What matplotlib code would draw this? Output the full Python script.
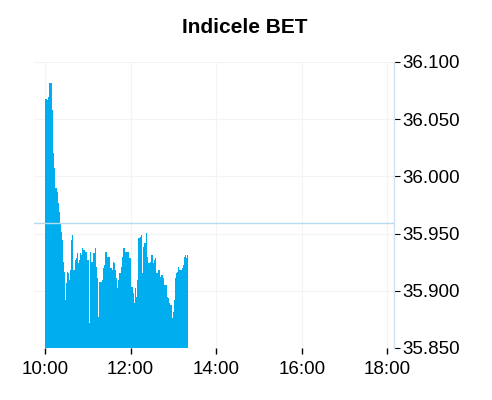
import numpy as np
import matplotlib
matplotlib.use('Agg')
import matplotlib.pyplot as plt
from matplotlib.ticker import FuncFormatter

# minutes after 10:00 and index level
minutes = [0.0, 2.3, 3.7, 4.7, 6.1, 8.4, 9.8, 10.8, 11.7, 13.1, 14.5, 16.4, 17.8, 19.2,
           21.0, 22.5, 23.9, 25.7, 27.1, 28.5, 29.5, 31.3, 32.8, 34.2, 35.6, 37.0, 38.4,
           39.8, 41.6, 43.0, 44.4, 45.9, 47.7, 49.1, 50.5, 51.9, 53.8, 55.2, 56.6, 58.5,
           60.3, 62.2, 63.2, 64.6, 66.0, 67.8, 69.7, 71.1, 72.5, 73.9, 75.3, 76.3, 78.1,
           79.5, 80.9, 82.8, 84.7, 86.5, 88.4, 90.3, 91.7, 93.6, 95.0, 96.4, 98.2, 99.6,
           101.0, 102.5, 104.3, 106.2, 107.6, 110.0, 111.8, 113.7, 115.6, 117.4, 119.3,
           121.2, 123.0, 124.9, 126.3, 128.2, 129.6, 131.0, 133.3, 134.7, 136.1, 138.0,
           139.4, 141.3, 142.7, 144.1, 145.5, 147.4, 149.2, 151.1, 153.0, 154.8, 156.3,
           158.1, 159.5, 161.4, 162.8, 164.2, 165.6, 167.5, 168.9, 170.8, 172.6, 174.0,
           175.4, 177.3, 178.7, 180.1, 181.0, 182.4, 183.8, 185.3, 186.7, 188.1, 189.5,
           190.9, 192.3, 193.7, 195.1, 196.6, 198.0, 199.4, 200.7]
values = [36.0674, 36.0668, 36.0653, 36.0697, 36.0813, 36.0819, 36.0580, 36.0362, 36.0202,
          36.0071, 35.9896, 35.9867, 35.9765, 35.9692, 35.9590, 35.9517, 35.9444, 35.9255,
          35.9167, 35.8920, 35.9065, 35.9167, 35.9153, 35.9094, 35.9182, 35.9444, 35.9488,
          35.9182, 35.9269, 35.9284, 35.9327, 35.9240, 35.9269, 35.9327, 35.9313, 35.9371,
          35.9357, 35.9357, 35.9342, 35.9269, 35.9269, 35.8716, 35.9342, 35.9255, 35.9255,
          35.9327, 35.9371, 35.9211, 35.9109, 35.8774, 35.8701, 35.9080, 35.9080, 35.9094,
          35.9196, 35.9225, 35.9342, 35.9298, 35.9298, 35.9298, 35.9196, 35.9182, 35.9255,
          35.9240, 35.9182, 35.9109, 35.9022, 35.9094, 35.9153, 35.9211, 35.9298, 35.9371,
          35.9342, 35.9342, 35.9342, 35.9284, 35.9284, 35.9036, 35.8978, 35.8890, 35.9022,
          35.8949, 35.9094, 35.9459, 35.9473, 35.9488, 35.9153, 35.9386, 35.9415, 35.9508,
          35.9298, 35.9240, 35.9240, 35.9255, 35.9313, 35.9240, 35.9269, 35.9284, 35.9153,
          35.9182, 35.9182, 35.9124, 35.9138, 35.9138, 35.9109, 35.9051, 35.9051, 35.8949,
          35.8934, 35.8890, 35.8876, 35.8876, 35.8759, 35.8818, 35.8920, 35.9109, 35.9153,
          35.9167, 35.9211, 35.9182, 35.9182, 35.9182, 35.9196, 35.9225, 35.9298, 35.9313,
          35.9284, 35.9313, 35.9313]
prev_close = 35.959

x_ticks = [10, 12, 14, 16, 18]
x_labels = ['10:00', '12:00', '14:00', '16:00', '18:00']
y_ticks = [35.85, 35.90, 35.95, 36.00, 36.05, 36.10]

plt.rcParams['font.family'] = ['Liberation Sans', 'DejaVu Sans']

t = 10 + np.array(minutes) / 60.0
v = np.array(values)

fig = plt.figure(figsize=(4.92, 4.00), dpi=100)
ax = fig.add_axes([0.069, 0.13, 0.732, 0.715])

ax.fill_between(t, v, 35.85, step='post', color='#00aeef', linewidth=0)
ax.axhline(prev_close, color='#b3dcf0', linewidth=1.0, zorder=3)

ax.set_xlim(9.74, 18.16)
ax.set_ylim(35.85, 36.10)

ax.set_xticks(x_ticks)
ax.set_xticklabels(x_labels, fontsize=13.5)
ax.set_yticks(y_ticks)
ax.yaxis.set_major_formatter(FuncFormatter(lambda y, p: '%.3f' % y))
ax.yaxis.tick_right()
ax.tick_params(axis='y', labelsize=13.5, length=4, width=0.8, color='#000000', pad=2)
ax.tick_params(axis='x', labelsize=13.5, length=4, width=1.0, color='#000000', pad=5)

ax.grid(True, color='#f4f4f4', linewidth=0.8)
ax.set_axisbelow(True)
for s in ['top', 'left', 'bottom']:
    ax.spines[s].set_visible(False)
ax.spines['right'].set_color('#d0e2f2')
ax.spines['right'].set_linewidth(1.0)

fig.suptitle('Indicele BET', fontsize=15, fontweight='bold', x=0.497, y=0.955)

fig.savefig('out.png', dpi=100)
